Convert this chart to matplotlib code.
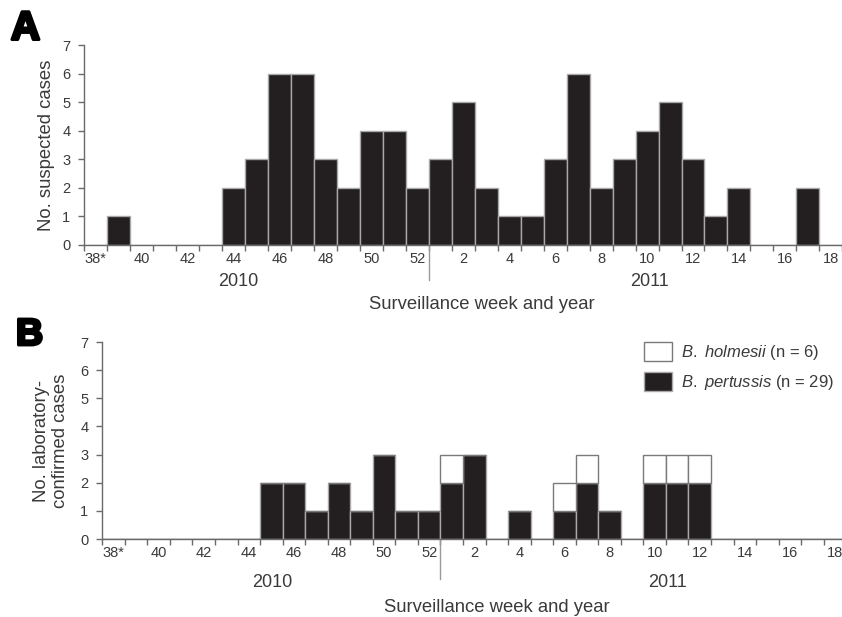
import numpy as np
import matplotlib

matplotlib.use("Agg")
import matplotlib.pyplot as plt
import matplotlib.patheffects as pe
from matplotlib.ticker import FixedLocator, NullFormatter


plt.rcParams["font.family"] = ["Liberation Sans", "DejaVu Sans"]
plt.rcParams["mathtext.fontset"] = "custom"
plt.rcParams["mathtext.it"] = "Liberation Sans:italic"
plt.rcParams["mathtext.rm"] = "Liberation Sans"

# Недели наблюдения: 38-52 за 2010 г. и 1-18 за 2011 г.
weeks = [38, 39, 40, 41, 42, 43, 44, 45, 46, 47, 48, 49, 50, 51, 52,
         1, 2, 3, 4, 5, 6, 7, 8, 9, 10, 11, 12, 13, 14, 15, 16, 17, 18]

# Панель A: подозрительные случаи.
suspected = [0, 1, 0, 0, 0, 0, 2, 3, 6, 6, 3, 2, 4, 4, 2,
             3, 5, 2, 1, 1, 3, 6, 2, 3, 4, 5, 3, 1, 2, 0, 0, 2, 0]

# Панель B: лабораторно подтвержденные случаи.
pertussis = [0, 0, 0, 0, 0, 0, 0, 2, 2, 1, 2, 1, 3, 1, 1,
             2, 3, 0, 1, 0, 1, 2, 1, 0, 2, 2, 2, 0, 0, 0, 0, 0, 0]
holmesii = [0, 0, 0, 0, 0, 0, 0, 0, 0, 0, 0, 0, 0, 0, 0,
            1, 0, 0, 0, 0, 1, 1, 0, 0, 1, 1, 1, 0, 0, 0, 0, 0, 0]

tick_labels = ["38*" if w == 38 else str(w) for w in weeks]
years = ["2010", "2011"]

DARK = "#231f20"
EDGE = "#a8a8a8"
AXC = "#6a6a6a"
TXT = "#3a3a3a"


def style_axis(ax, sep_len):
    n = len(weeks)
    ax.set_xlim(0, n)
    ax.set_ylim(0, 7)
    for s in ("top", "right"):
        ax.spines[s].set_visible(False)
    for s in ("left", "bottom"):
        ax.spines[s].set_color(AXC)
        ax.spines[s].set_linewidth(1.0)
    ax.set_yticks(range(8))
    ax.tick_params(axis="y", length=4, width=1, color=AXC, pad=6,
                   labelsize=10.5, labelcolor=TXT)
    # Деления на границах недель, подписи по центрам через одну.
    ax.xaxis.set_major_locator(FixedLocator(np.arange(n + 1)))
    ax.xaxis.set_major_formatter(NullFormatter())
    centers = [i + 0.5 for i, w in enumerate(weeks) if w % 2 == 0]
    ax.xaxis.set_minor_locator(FixedLocator(centers))
    ax.set_xticklabels([tick_labels[i] for i, w in enumerate(weeks) if w % 2 == 0],
                       minor=True)
    ax.tick_params(axis="x", which="major", length=4, width=1, color=AXC)
    ax.tick_params(axis="x", which="minor", length=0, pad=5,
                   labelsize=10.5, labelcolor=TXT)
    # Граница между годами.
    ax.plot([15, 15], [0, -sep_len], color="#9a9a9a", lw=1, clip_on=False)


x = np.arange(len(weeks)) + 0.5
heavy = [pe.withStroke(linewidth=2.2, foreground="black")]

fig = plt.figure(figsize=(8.42, 6.17), dpi=100)

axA = fig.add_axes([84.3 / 842, 0.603, 758 / 842, 0.324])
axA.bar(x, suspected, width=1, color=DARK, edgecolor=EDGE, linewidth=1)
style_axis(axA, 1.22)
axA.set_ylabel("No. suspected cases", fontsize=13.3, color=TXT, labelpad=5)
axA.text(6.7, -1.28, years[0], ha="center", va="center", fontsize=13, color=TXT)
axA.text(24.6, -1.28, years[1], ha="center", va="center", fontsize=13, color=TXT)
axA.text(0.525, -0.32, "Surveillance week and year", transform=axA.transAxes,
         ha="center", va="baseline", fontsize=13.3, color=TXT)

axB = fig.add_axes([102.3 / 842, 0.1264, 744 / 842, 0.3193])
axB.bar(x, pertussis, width=1, color=DARK, edgecolor=EDGE, linewidth=1,
        label=r"$\it{B.}$ $\it{pertussis}$ (n = 29)")
axB.bar(x, holmesii, width=1, bottom=pertussis, color="white", edgecolor="#7a7a7a",
        linewidth=1, label=r"$\it{B.}$ $\it{holmesii}$ (n = 6)")
style_axis(axB, 1.42)
axB.set_ylabel("No. laboratory-\nconfirmed cases", fontsize=13.3, color=TXT,
               labelpad=8, linespacing=1.15)
axB.text(7.56, -1.55, years[0], ha="center", va="center", fontsize=13, color=TXT)
axB.text(25.06, -1.55, years[1], ha="center", va="center", fontsize=13, color=TXT)
axB.text(0.53, -0.37, "Surveillance week and year", transform=axB.transAxes,
         ha="center", va="baseline", fontsize=13.3, color=TXT)

handles, labels = axB.get_legend_handles_labels()
axB.legend(handles[::-1], labels[::-1], loc="upper left",
           bbox_to_anchor=(0.728, 1.0), frameon=False, fontsize=12,
           handlelength=1.7, handleheight=1.4, handletextpad=0.55,
           labelspacing=0.6, borderpad=0, borderaxespad=0, labelcolor=TXT)

fig.text(0.013, 0.936, "A", fontsize=29, fontweight="heavy", color="black",
         path_effects=heavy)
fig.text(0.019, 0.441, "B", fontsize=27, fontweight="heavy", color="black",
         path_effects=heavy)

fig.savefig("out.png", dpi=100)
